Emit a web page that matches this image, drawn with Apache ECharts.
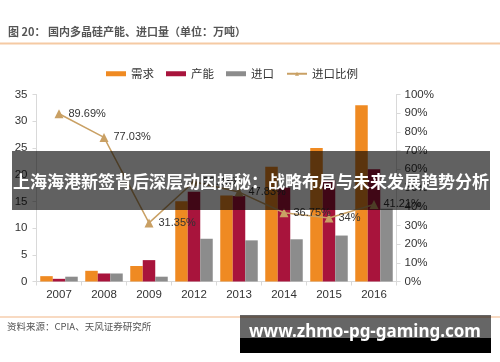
<!DOCTYPE html>
<html><head><meta charset="utf-8">
<script src="https://cdn.jsdelivr.net/npm/echarts@6/dist/echarts.min.js"></script>
<style>html,body{margin:0;padding:0;background:#fff}#c{width:500px;height:362px}</style>
</head><body><div id="c"></div>
<script>
const categories = ['2007','2008','2009','2012','2013','2014','2015','2016'];
const demand   = [1.0, 2.0, 2.9, 15.0, 16.1, 21.5, 25.0, 33.0];
const capacity = [0.5, 1.5, 4.0, 16.8, 16.0, 17.6, 19.0, 21.0];
const imports  = [0.9, 1.5, 0.9, 8.0, 7.7, 7.9, 8.6, 13.6];
const importRatio = [89.69, 77.03, 31.35, 53.33, 47.83, 36.75, 34, 41.21];
const leftTicks = {min: 0, max: 35, interval: 5};
const rightTicks = {min: 0, max: 100, interval: 10};
const seriesNames = ['需求', '产能', '进口', '进口比例'];
const titleNo = '图 20：';
const titleText = '国内多晶硅产能、进口量（单位：万吨）';
const sourceText = '资料来源：CPIA、天风证券研究所';
const bannerText = '上海海港新签背后深层动因揭秘：战略布局与未来发展趋势分析';
const watermarkText = 'www.zhmo-pg-gaming.com';

const font = 'Liberation Sans, Arial, "Noto Sans CJK SC", sans-serif';
const cjk = '"Noto Sans CJK SC", sans-serif';
const chart = echarts.init(document.getElementById('c'), null, {renderer: 'canvas'});
const axisLine = {show: true, lineStyle: {color: '#d9d9d9', width: 1}};
const barW = 12.5;
chart.setOption({
  animation: false,
  textStyle: {fontFamily: font},
  grid: {left: 36.5, right: 103.5, top: 94.5, bottom: 80.5, containLabel: false},
  legend: {
    left: 101, top: 63, itemWidth: 20, itemHeight: 5, itemGap: 12,
    textStyle: {fontSize: 11.5, color: '#333', fontFamily: cjk},
    data: [
      {name: seriesNames[0], icon: 'rect'},
      {name: seriesNames[1], icon: 'rect'},
      {name: seriesNames[2], icon: 'rect'},
      {name: seriesNames[3]}
    ]
  },
  xAxis: {
    type: 'category', data: categories,
    axisLine: axisLine,
    axisTick: {show: true, alignWithLabel: false, length: 4, lineStyle: {color: '#d9d9d9'}},
    axisLabel: {fontSize: 11.5, color: '#333', margin: 8}
  },
  yAxis: [
    {type: 'value', min: leftTicks.min, max: leftTicks.max, interval: leftTicks.interval,
     axisLine: axisLine, axisTick: {show: true, length: 4, lineStyle: {color: '#d9d9d9'}},
     splitLine: {show: false}, axisLabel: {fontSize: 11.5, color: '#333', margin: 9}},
    {type: 'value', min: rightTicks.min, max: rightTicks.max, interval: rightTicks.interval,
     axisLine: axisLine, axisTick: {show: true, length: 4, lineStyle: {color: '#d9d9d9'}},
     splitLine: {show: false}, axisLabel: {fontSize: 11.5, color: '#333', margin: 8, formatter: '{value}%'}}
  ],
  series: [
    {name: seriesNames[0], type: 'bar', data: demand, barWidth: barW, barGap: '0%', itemStyle: {color: '#ef8a22'}},
    {name: seriesNames[1], type: 'bar', data: capacity, barWidth: barW, barGap: '0%', itemStyle: {color: '#a8143c'}},
    {name: seriesNames[2], type: 'bar', data: imports, barWidth: barW, barGap: '0%', itemStyle: {color: '#8c8c8c'}},
    {name: seriesNames[3], type: 'line', yAxisIndex: 1, data: importRatio,
     symbol: 'triangle', symbolSize: 9, itemStyle: {color: '#c9a064'},
     lineStyle: {color: '#c9a064', width: 1.5},
     label: {show: true, position: 'right', distance: 5, fontSize: 11, color: '#333',
             formatter: p => p.value + '%'}, z: 5}
  ],
  graphic: [
    {type: 'text', left: 8, top: 26, style: {text: titleNo, font: 'bold 11px ' + cjk, fill: '#555'}},
    {type: 'text', left: 48, top: 26, style: {text: titleText, font: 'bold 11px ' + cjk, fill: '#555'}},
    {type: 'rect', shape: {x: 0, y: 42.5, width: 500, height: 2}, style: {fill: '#f5caa3'}},
    {type: 'rect', shape: {x: 0, y: 316.5, width: 500, height: 1}, style: {fill: '#f2b585'}},
    {type: 'text', left: 7, top: 322, style: {text: sourceText, font: '9.5px ' + cjk, fill: '#555'}},
    {type: 'rect', z: 100, shape: {x: 12, y: 151, width: 478, height: 59}, style: {fill: 'rgba(0,0,0,0.62)'}},
    {type: 'text', z: 101, style: {x: 251, y: 182, text: bannerText, font: 'bold 17px ' + cjk, fill: '#fff', align: 'center', verticalAlign: 'middle'}},
    {type: 'rect', z: 100, shape: {x: 240, y: 315, width: 251, height: 23}, style: {fill: 'rgba(0,0,0,0.6)'}},
    {type: 'rect', z: 100, shape: {x: 240, y: 338, width: 251, height: 15}, style: {fill: '#000'}},
    {type: 'text', z: 101, style: {x: 365, y: 332, text: watermarkText, font: 'bold 17px "Noto Sans", "DejaVu Sans", sans-serif', fill: '#fff', align: 'center', verticalAlign: 'middle'}}
  ]
});
</script></body></html>
